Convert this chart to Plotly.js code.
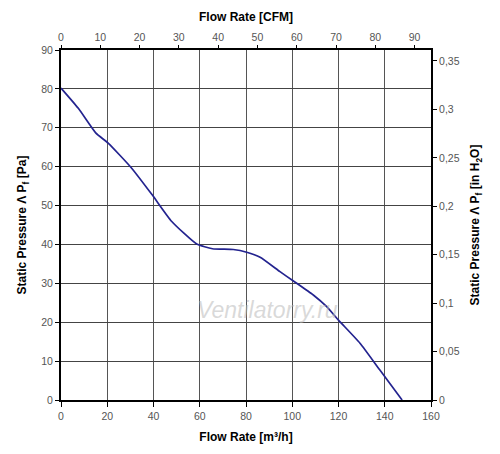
<!DOCTYPE html>
<html>
<head>
<meta charset="utf-8">
<script src="https://cdn.plot.ly/plotly-3.0.1.min.js"></script>
<style>html,body{margin:0;padding:0;background:#fff;}#chart{width:500px;height:454px;}</style>
</head>
<body>
<div id="chart"></div>
<script>
// Flow rate [m³/h] and static pressure [Pa]
const flowM3h = [0, 7.5, 15, 20.5, 30.3, 39.5, 47.9, 58.7, 65.5, 74.5, 80.3, 86.1, 94.7, 100.5, 109.1, 114.9, 119.9, 129.3, 137.9, 147.5];
const pressurePa = [80.2, 75.0, 68.7, 66.0, 59.8, 52.7, 45.9, 40.1, 38.9, 38.7, 38.0, 36.7, 33.0, 30.6, 27.0, 24.0, 20.6, 14.6, 7.7, 0];

const xRange = [0, 160];
const yRange = [0, 90];
const M3H_PER_CFM = 1.699;
const PA_PER_INH2O = 249.09;

const tickFont = {family: 'Liberation Sans, Arial, sans-serif', size: 10.5, color: '#555'};
const titleFont = {family: 'Liberation Sans, Arial, sans-serif', size: 12, color: '#000', weight: 'bold'};

const traces = [{
  x: flowM3h, y: pressurePa, type: 'scatter', mode: 'lines',
  line: {color: '#23238f', width: 1.7, shape: 'spline', smoothing: 0.5},
  hoverinfo: 'x+y', showlegend: false
}, {
  // same curve in CFM / in H2O units, invisible, so the secondary axes are drawn
  x: flowM3h.map(v => v / M3H_PER_CFM), y: pressurePa.map(v => v / PA_PER_INH2O),
  xaxis: 'x2', yaxis: 'y2', type: 'scatter', mode: 'none',
  hoverinfo: 'skip', showlegend: false
}];

const layout = {
  width: 500, height: 454,
  margin: {l: 61, r: 69, t: 50, b: 54},
  paper_bgcolor: '#fff', plot_bgcolor: '#fff',
  separators: ', ',
  showlegend: false,
  xaxis: {
    range: xRange, dtick: 20, tick0: 0,
    showgrid: true, gridcolor: '#555', gridwidth: 1, zeroline: false,
    showline: true, linecolor: '#000', linewidth: 2,
    ticks: 'outside', ticklen: 5, tickcolor: '#000', tickwidth: 1,
    tickfont: tickFont,
    title: {text: 'Flow Rate [m³/h]', font: titleFont, standoff: 12},
    fixedrange: true
  },
  xaxis2: {
    overlaying: 'x', side: 'top', anchor: 'y',
    range: [xRange[0] / M3H_PER_CFM, xRange[1] / M3H_PER_CFM], dtick: 10, tick0: 0,
    showgrid: false, zeroline: false,
    showline: true, linecolor: '#000', linewidth: 2,
    ticks: 'outside', ticklen: 3, tickcolor: '#000', tickwidth: 1,
    tickfont: tickFont,
    title: {text: 'Flow Rate [CFM]', font: titleFont, standoff: 7},
    fixedrange: true
  },
  yaxis: {
    range: yRange, dtick: 10, tick0: 0,
    showgrid: true, gridcolor: '#444', gridwidth: 1, zeroline: false,
    showline: true, linecolor: '#000', linewidth: 2,
    ticks: 'outside', ticklen: 4, tickcolor: '#000', tickwidth: 1,
    tickfont: tickFont,
    title: {text: 'Static Pressure Λ P<sub>f</sub> [Pa]', font: titleFont, standoff: 12},
    fixedrange: true
  },
  yaxis2: {
    overlaying: 'y', side: 'right', anchor: 'x',
    range: [yRange[0] / PA_PER_INH2O, yRange[1] / PA_PER_INH2O], dtick: 0.05, tick0: 0,
    showgrid: false, zeroline: false,
    showline: true, linecolor: '#000', linewidth: 2,
    ticks: 'outside', ticklen: 4, tickcolor: '#000', tickwidth: 1,
    tickfont: tickFont,
    title: {text: 'Static Pressure Λ P<sub>f</sub> [in H<sub>2</sub>O]', font: titleFont, standoff: 12},
    fixedrange: true
  },
  annotations: [{
    text: 'Ventilatorry.ru', xref: 'paper', yref: 'paper', x: 0.755, y: 0.215,
    showarrow: false,
    font: {family: 'Liberation Sans, Arial, sans-serif', size: 23, color: 'rgba(185,185,185,0.55)', style: 'italic'}
  }]
};

Plotly.newPlot('chart', traces, layout, {displayModeBar: false, staticPlot: true});
</script>
</body>
</html>
